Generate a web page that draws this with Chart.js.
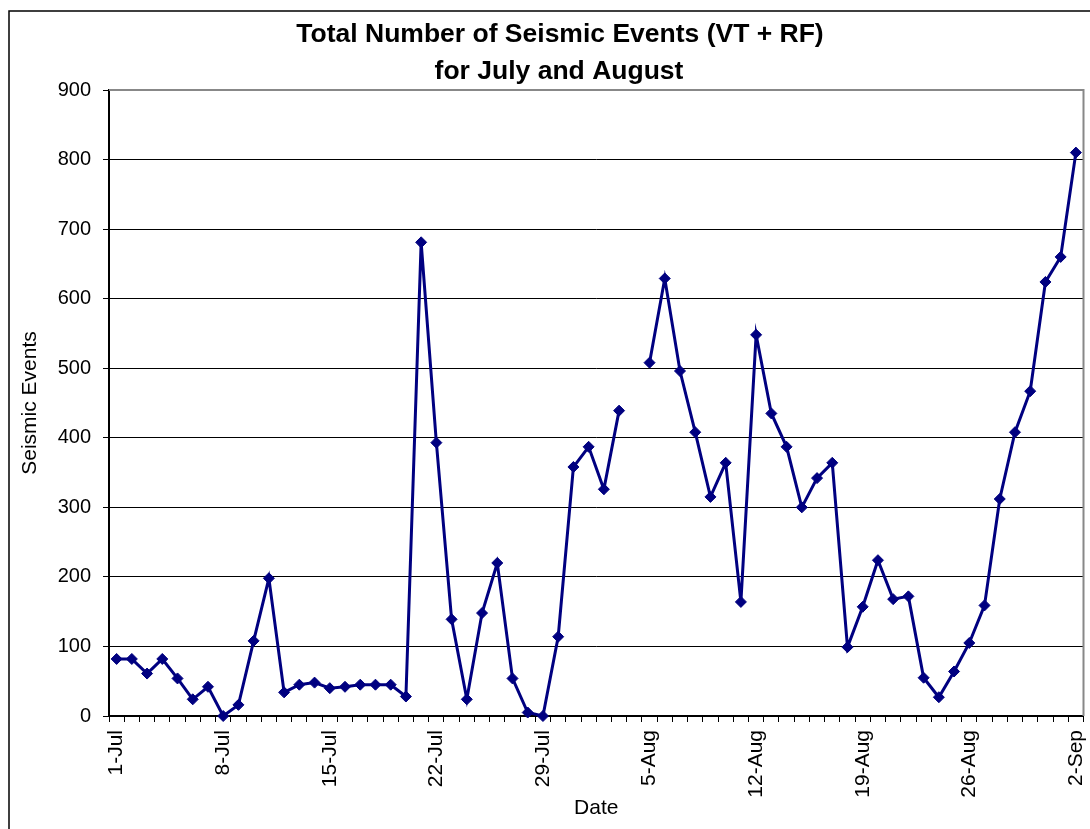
<!DOCTYPE html>
<html>
<head>
<meta charset="utf-8">
<script src="https://cdn.jsdelivr.net/npm/chart.js@4"></script>
<style>
  html, body { margin: 0; padding: 0; background: #fff; }
  canvas { display: block; }
</style>
</head>
<body>
<canvas id="seismic" width="1090" height="829"></canvas>
<script>
// one category per day, 1-Jul .. 2-Sep
const dates = [
  '1-Jul', '2-Jul', '3-Jul', '4-Jul', '5-Jul', '6-Jul', '7-Jul', '8-Jul', '9-Jul', '10-Jul',
  '11-Jul', '12-Jul', '13-Jul', '14-Jul', '15-Jul', '16-Jul', '17-Jul', '18-Jul', '19-Jul', '20-Jul',
  '21-Jul', '22-Jul', '23-Jul', '24-Jul', '25-Jul', '26-Jul', '27-Jul', '28-Jul', '29-Jul', '30-Jul', '31-Jul',
  '1-Aug', '2-Aug', '3-Aug', '4-Aug', '5-Aug', '6-Aug', '7-Aug', '8-Aug', '9-Aug', '10-Aug',
  '11-Aug', '12-Aug', '13-Aug', '14-Aug', '15-Aug', '16-Aug', '17-Aug', '18-Aug', '19-Aug', '20-Aug',
  '21-Aug', '22-Aug', '23-Aug', '24-Aug', '25-Aug', '26-Aug', '27-Aug', '28-Aug', '29-Aug', '30-Aug', '31-Aug',
  '1-Sep', '2-Sep'
];

const julyEvents = [82, 82, 61, 82, 54, 24, 42, 0, 16, 108, 198, 34, 45, 48, 40, 42, 45, 45, 45, 28,
  681, 393, 139, 24, 148, 220, 54, 5, 0, 114, 358];
const augustEvents = [387, 326, 439, null, 508, 629, 496, 408, 315, 364, 164, 548, 435, 387, 300, 342,
  364, 99, 157, 224, 168, 172, 55, 27, 64, 105, 159, 312, 408, 467, 624];
const septemberEvents = [660, 810];

const titleLines = ['Total Number of Seismic Events (VT + RF)', 'for July and August'];
const yTicks = { min: 0, max: 900, step: 100 };

const events = julyEvents.concat(augustEvents, septemberEvents);
const FONT = '"Liberation Sans", Arial, sans-serif';

// white page, outer frame, two-line title
const decor = {
  id: 'decor',
  beforeDraw(chart) {
    const c = chart.ctx;
    c.save();
    c.fillStyle = '#fff';
    c.fillRect(0, 0, chart.width, chart.height);
    c.strokeStyle = '#000';
    c.lineWidth = 1.5;
    c.strokeRect(9, 11, 1100, 900);
    c.fillStyle = '#000';
    c.font = 'bold 26.5px ' + FONT;
    c.textAlign = 'center';
    c.textBaseline = 'middle';
    c.fillText(titleLines[0], 560, 35);
    c.fillText(titleLines[1], 559, 72);
    c.restore();
  },
  beforeDatasetsDraw(chart) {
    const a = chart.chartArea;
    const c = chart.ctx;
    c.save();
    c.strokeStyle = '#888';
    c.lineWidth = 2;
    c.beginPath();
    c.moveTo(a.left, a.top);
    c.lineTo(a.right, a.top);
    c.lineTo(a.right, a.bottom);
    c.stroke();
    c.restore();
  }
};

new Chart(document.getElementById('seismic').getContext('2d'), {
  type: 'line',
  data: {
    labels: dates,
    datasets: [{
      data: events,
      borderColor: '#000080',
      backgroundColor: '#000080',
      borderWidth: 3,
      pointStyle: 'rectRot',
      pointRadius: 5.5,
      pointBorderWidth: 1,
      tension: 0,
      spanGaps: false,
      clip: false
    }]
  },
  options: {
    responsive: false,
    animation: false,
    layout: { padding: { left: 12, top: 90, right: 5, bottom: 0 } },
    plugins: {
      legend: { display: false },
      tooltip: { enabled: false }
    },
    scales: {
      x: {
        type: 'category',
        offset: true,
        afterFit(scale) {
          scale.height = 113;
          scale.paddingLeft = 0;
          scale.paddingRight = 0;
        },
        grid: {
          offset: true,
          drawOnChartArea: false,
          drawTicks: true,
          tickLength: 6,
          color: '#000'
        },
        border: { display: true, color: '#000', width: 2 },
        ticks: {
          autoSkip: false,
          maxRotation: 90,
          minRotation: 90,
          padding: 8,
          color: '#000',
          font: { family: FONT, size: 21 },
          callback(value, index) { return index % 7 === 0 ? dates[index] : ''; }
        },
        title: {
          display: true,
          text: 'Date',
          color: '#000',
          font: { family: FONT, size: 21 },
          padding: { top: 0, bottom: 8 }
        }
      },
      y: {
        min: yTicks.min,
        max: yTicks.max,
        afterFit(scale) { scale.width = 97; },
        grid: {
          color: '#000',
          lineWidth: 1,
          tickLength: 6
        },
        border: { display: true, color: '#000', width: 2 },
        ticks: {
          stepSize: yTicks.step,
          padding: 12,
          color: '#000',
          font: { family: FONT, size: 20 }
        },
        title: {
          display: true,
          text: 'Seismic Events',
          color: '#000',
          font: { family: FONT, size: 21 },
          padding: { top: 6, bottom: 4 }
        }
      }
    }
  },
  plugins: [decor]
});
</script>
</body>
</html>
